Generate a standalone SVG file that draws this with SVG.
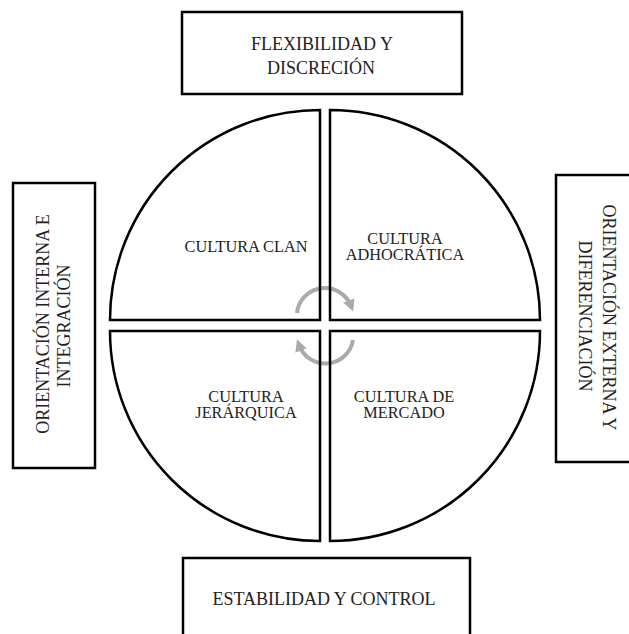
<svg xmlns="http://www.w3.org/2000/svg" width="629" height="634" viewBox="0 0 629 634">
<style>
.box{fill:#fff;stroke:#000;stroke-width:2.5}
.q{fill:none;stroke:#000;stroke-width:2.5;stroke-linejoin:miter}
.t{font-family:"Liberation Serif","Times New Roman",serif;fill:#222;text-anchor:middle}
.big{font-size:18px}
.sm{font-size:16.3px}
.arc{fill:none;stroke:#aaa;stroke-width:4}
</style>
<defs>
<marker id="ah" viewBox="0 0 10 10" refX="5" refY="5" markerWidth="3" markerHeight="3" orient="auto" markerUnits="strokeWidth">
<path d="M0,0 L10,5 L0,10 Z" fill="#aaa"/>
</marker>
</defs>
<g id="top-box">
<rect class="box" x="182" y="12" width="280" height="82"/>
<text class="t big" x="322" y="50">FLEXIBILIDAD Y</text>
<text class="t big" x="321" y="74">DISCRECIÓN</text>
</g>
<g id="bottom-box">
<rect class="box" x="183" y="558" width="287" height="90"/>
<text class="t big" x="324" y="605">ESTABILIDAD Y CONTROL</text>
</g>
<g id="left-box">
<rect class="box" x="13" y="183" width="82" height="285"/>
<text class="t big" transform="translate(49,324) rotate(-90)">ORIENTACIÓN INTERNA E</text>
<text class="t big" transform="translate(70,326) rotate(-90)">INTEGRACIÓN</text>
</g>
<g id="right-box">
<rect class="box" x="556" y="175" width="90" height="287"/>
<text class="t big" transform="translate(603,317.5) rotate(90)">ORIENTACIÓN EXTERNA Y</text>
<text class="t big" transform="translate(579,316) rotate(90)">DIFERENCIACIÓN</text>
</g>
<g id="connectors">
<path class="arc" d="M297,313 A28,28 0 0 1 351,306" marker-end="url(#ah)"/>
<path class="arc" d="M353,340 A28,28 0 0 1 299,345" marker-end="url(#ah)"/>
</g>
<g id="cultura-clan">
<path class="q" d="M320,320 H110 A210,210 0 0 1 320,110 Z"/>
<text class="t sm" x="246" y="252">CULTURA CLAN</text>
</g>
<g id="cultura-adhocratica">
<path class="q" d="M330,320 V110 A210,210 0 0 1 540,320 Z"/>
<text class="t sm" x="405" y="244">CULTURA</text>
<text class="t sm" x="405" y="260">ADHOCRÁTICA</text>
</g>
<g id="cultura-jerarquica">
<path class="q" d="M320,331 H110 A210,210 0 0 0 320,541 Z"/>
<text class="t sm" x="246" y="402">CULTURA</text>
<text class="t sm" x="246" y="418">JERÁRQUICA</text>
</g>
<g id="cultura-mercado">
<path class="q" d="M330,331 H540 A210,210 0 0 1 330,541 Z"/>
<text class="t sm" x="404" y="402">CULTURA DE</text>
<text class="t sm" x="404" y="418">MERCADO</text>
</g>
</svg>
